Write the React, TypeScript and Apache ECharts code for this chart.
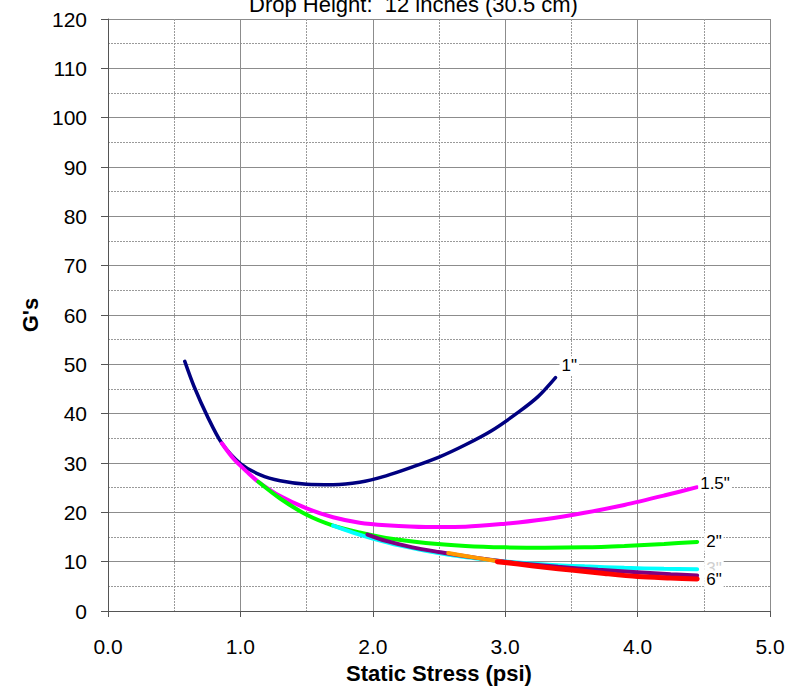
import React, { useEffect, useRef } from "react";
import * as echarts from "echarts";

const titleText = "Drop Height:  12 inches (30.5 cm)";
const xTicks = [0, 1, 2, 3, 4, 5];
const yTicks = [0, 10, 20, 30, 40, 50, 60, 70, 80, 90, 100, 110, 120];

const seriesNames = ['1"', '1.5"', '2"', '3"', '4"', '5"', '6"'];

const data1: number[][] = [
  [0.58, 50.6], [0.65, 45.5], [0.75, 39.5], [0.86, 34.0], [1.0, 29.9], [1.15, 27.6],
  [1.3, 26.4], [1.5, 25.7], [1.7, 25.6], [1.9, 26.1], [2.1, 27.4], [2.3, 29.2],
  [2.5, 31.2], [2.7, 33.7], [2.9, 36.6], [3.1, 40.3], [3.25, 43.5], [3.38, 47.3],
];
const data15: number[][] = [
  [0.86, 34.0], [0.95, 30.8], [1.05, 28.2], [1.135, 26.2], [1.3, 23.3], [1.5, 20.8],
  [1.7, 19.0], [1.9, 17.9], [2.1, 17.4], [2.4, 17.05], [2.7, 17.1], [3.0, 17.7],
  [3.3, 18.6], [3.6, 19.9], [3.9, 21.5], [4.2, 23.4], [4.45, 25.1],
];
const data2: number[][] = [
  [1.135, 26.2], [1.3, 22.8], [1.5, 19.5], [1.7, 17.3], [1.9, 15.9], [2.1, 14.8],
  [2.4, 13.8], [2.7, 13.2], [3.0, 12.9], [3.3, 12.8], [3.6, 12.9], [3.9, 13.2],
  [4.2, 13.6], [4.45, 14.0],
];
const data3: number[][] = [
  [1.7, 17.3], [1.85, 15.9], [2.0, 14.7], [2.2, 13.3], [2.4, 12.2], [2.6, 11.3],
  [2.8, 10.6], [3.0, 10.05], [3.3, 9.45], [3.6, 9.05], [3.9, 8.75], [4.2, 8.55], [4.45, 8.45],
];
const data4: number[][] = [
  [1.96, 15.5], [2.1, 14.2], [2.3, 12.9], [2.5, 11.95], [2.7, 11.1], [2.9, 10.35],
  [3.1, 9.7], [3.4, 8.95], [3.7, 8.35], [4.0, 7.85], [4.25, 7.45], [4.45, 7.2],
];
const data5: number[][] = [
  [2.57, 11.75], [2.7, 11.15], [2.85, 10.5], [3.0, 9.9], [3.1, 9.55],
];
const data6: number[][] = [
  [2.94, 10.0], [3.1, 9.5], [3.3, 8.85], [3.5, 8.3], [3.75, 7.6], [4.0, 7.0],
  [4.25, 6.7], [4.45, 6.5],
];

const seriesData = [data1, data15, data2, data3, data4, data5, data6];
const colors = ["#000080", "#ff00ff", "#00ff00", "#00ffff", "#800080", "#ff9900", "#ff0000"];
const widths = [3.5, 4, 4, 4, 4, 4, 5];
const showEndLabel = [true, true, true, true, false, false, true];
const labelOffsets: number[][] = [[0, -12], [-3, -4], [3, 0], [3, -1], [0, 0], [0, 0], [3, 1]];
const labelColors = ["#000", "#000", "#000", "#cfcfcf", "#000", "#000", "#000"];

const FONT = "'Liberation Sans', Arial, sans-serif";

export default function App() {
  const ref = useRef<HTMLDivElement>(null);
  useEffect(() => {
    if (!ref.current) return;
    const chart = echarts.init(ref.current, undefined, { renderer: "svg" });
    const option: any = {
      animation: false,
      backgroundColor: "#fff",
      textStyle: { fontFamily: FONT },
      graphic: [
        {
          type: "text",
          left: 249,
          top: -7,
          z: 100,
          style: { text: titleText, font: `22px ${FONT}`, fill: "#000" },
        },
      ],
      grid: { left: 108, right: 18, top: 19, bottom: 85, containLabel: false },
      xAxis: {
        type: "value",
        min: xTicks[0],
        max: xTicks[xTicks.length - 1],
        interval: 1,
        name: "Static Stress (psi)",
        nameLocation: "middle",
        nameGap: 51,
        nameTextStyle: { fontFamily: FONT, fontSize: 22, fontWeight: "bold", color: "#000" },
        axisLine: { show: true, onZero: false, lineStyle: { color: "#555", width: 1 } },
        axisTick: { show: true, length: 6, lineStyle: { color: "#555" } },
        axisLabel: {
          fontFamily: FONT,
          fontSize: 21,
          color: "#000",
          margin: 25,
          formatter: (v: number) => v.toFixed(1),
        },
        splitLine: { show: true, lineStyle: { color: "#8c8c8c", width: 1 } },
        minorTick: { show: false, splitNumber: 2 },
        minorSplitLine: { show: true, lineStyle: { color: "#9a9a9a", width: 1, type: [2, 1] } },
      },
      yAxis: {
        type: "value",
        min: yTicks[0],
        max: yTicks[yTicks.length - 1],
        interval: 10,
        name: "G's",
        nameLocation: "middle",
        nameGap: 59,
        nameTextStyle: { fontFamily: FONT, fontSize: 22, fontWeight: "bold", color: "#000" },
        axisLine: { show: true, onZero: false, lineStyle: { color: "#555", width: 1 } },
        axisTick: { show: true, length: 7, lineStyle: { color: "#555" } },
        axisLabel: { fontFamily: FONT, fontSize: 21, color: "#000", margin: 21 },
        splitLine: { show: true, lineStyle: { color: "#8c8c8c", width: 1 } },
        minorTick: { show: false, splitNumber: 2 },
        minorSplitLine: { show: true, lineStyle: { color: "#9a9a9a", width: 1, type: [2, 1] } },
      },
      series: seriesData.map((d, i) => ({
        type: "line",
        name: seriesNames[i],
        data: d,
        smooth: 0.3,
        showSymbol: false,
        symbol: "none",
        z: 2 + i,
        lineStyle: { color: colors[i], width: widths[i], cap: "round" },
        itemStyle: { color: colors[i] },
        endLabel: {
          show: showEndLabel[i],
          formatter: seriesNames[i],
          fontFamily: FONT,
          fontSize: 17,
          color: labelColors[i],
          backgroundColor: "#fff",
          padding: [1, 2],
          distance: 4,
          offset: labelOffsets[i],
        },
      })),
    };
    chart.setOption(option);
    return () => chart.dispose();
  }, []);
  return (
    <div
      ref={ref}
      style={{ position: "fixed", left: 0, top: 0, width: 788, height: 696 }}
    />
  );
}
